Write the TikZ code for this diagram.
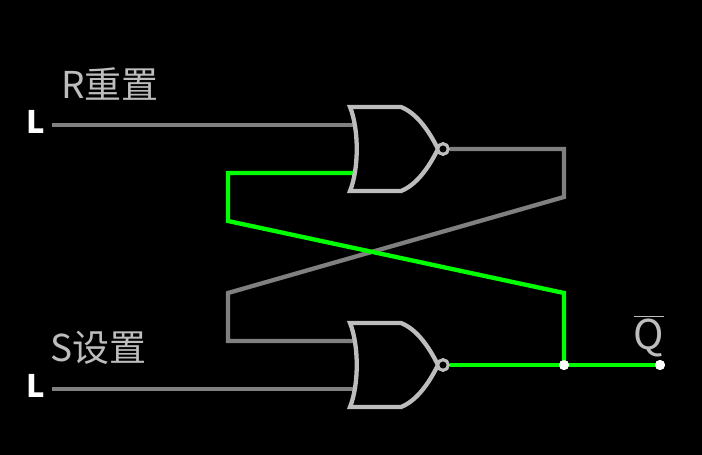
\documentclass[tikz,border=0pt]{standalone}
\usepackage{xcolor}
\usepackage{fontspec}
\setmainfont{Noto Sans CJK SC}
\usetikzlibrary{positioning}
\definecolor{wireoff}{HTML}{808080}
\definecolor{wireon}{HTML}{00FF00}
\definecolor{gateline}{HTML}{BDBDBD}
\definecolor{labeltxt}{HTML}{BDBDBD}
\tikzset{
  wire/.style={wireoff,line width=4.3pt,line join=miter},
  hotwire/.style={wireon,line width=4.3pt,line join=miter},
  gate/.style={gateline,line width=4.3pt,line join=miter},
  bubble/.style={circle,draw=gateline,line width=3pt,fill=black,minimum size=10.5pt,inner sep=0pt},
  joint/.style={circle,fill=white,minimum size=10pt,inner sep=0pt},
  level/.style={text=white,font=\fontsize{31}{31}\selectfont\bfseries,inner sep=0pt},
  caption/.style={text=labeltxt,font=\fontsize{37}{37}\selectfont,inner sep=0pt,anchor=west},
}
\newcommand{\norgate}[1]{%
  \draw[gate] (350,#1-42) -- (401,#1-42) .. controls (416,#1-36) and (428,#1-20) .. (438,#1)
    .. controls (428,#1+20) and (416,#1+36) .. (401,#1+42) -- (350,#1+42)
    .. controls (359,#1+20) and (359,#1-20) .. cycle;
}
\begin{document}
\begin{tikzpicture}[x=1pt,y=-1pt]
\fill[black] (0,0) rectangle (702,455);
\useasboundingbox (0,0) rectangle (702,455);
% inputs and bends
\node[level] (inr) at (36,122) {L};
\node[level] (ins) at (36,386) {L};
\coordinate (startr) at (52,125);
\coordinate (starts) at (52,389);
\coordinate (portra) at (354,125);
\coordinate (portrb) at (354,173);
\coordinate (portsa) at (354,341);
\coordinate (portsb) at (354,389);
\coordinate (bendc) at (228,173);
\coordinate (bendd) at (228,221);
\coordinate (bende) at (564,293);
\coordinate (bendf) at (564,149);
\coordinate (bendg) at (564,197);
\coordinate (bendh) at (228,293);
\coordinate (bendi) at (228,341);
% wires first, gates on top
\draw[wire] (startr) -- (portra);
\draw[wire] (starts) -- (portsb);
\node[joint] (tap) at (564,365) {};
\node[joint] (outq) at (660,365) {};
\node[bubble] (norr) at (443,149) {};
\node[bubble] (nors) at (443,365) {};
\draw[wire] (norr) -- (bendf) -- (bendg) -- (bendh) -- (bendi) -- (portsa);
\draw[hotwire] (portrb) -- (bendc) -- (bendd) -- (bende) -- (tap.center);
\draw[hotwire] (nors) -- (outq.center);
\norgate{149}
\norgate{365}
\node[bubble] at (norr) {};
\node[bubble] at (nors) {};
\node[joint] at (tap) {};
\node[joint] at (outq) {};
% labels
\node[caption] (capr) at (61,84) {R重置};
\node[caption] (caps) at (50,348) {S设置};
\node[text=labeltxt,font=\fontsize{41}{41}\selectfont,inner sep=0pt,anchor=base] (capq) at (649,349) {$\overline{\hbox{Q\rule{0pt}{31pt}}}$};
\end{tikzpicture}
\end{document}
